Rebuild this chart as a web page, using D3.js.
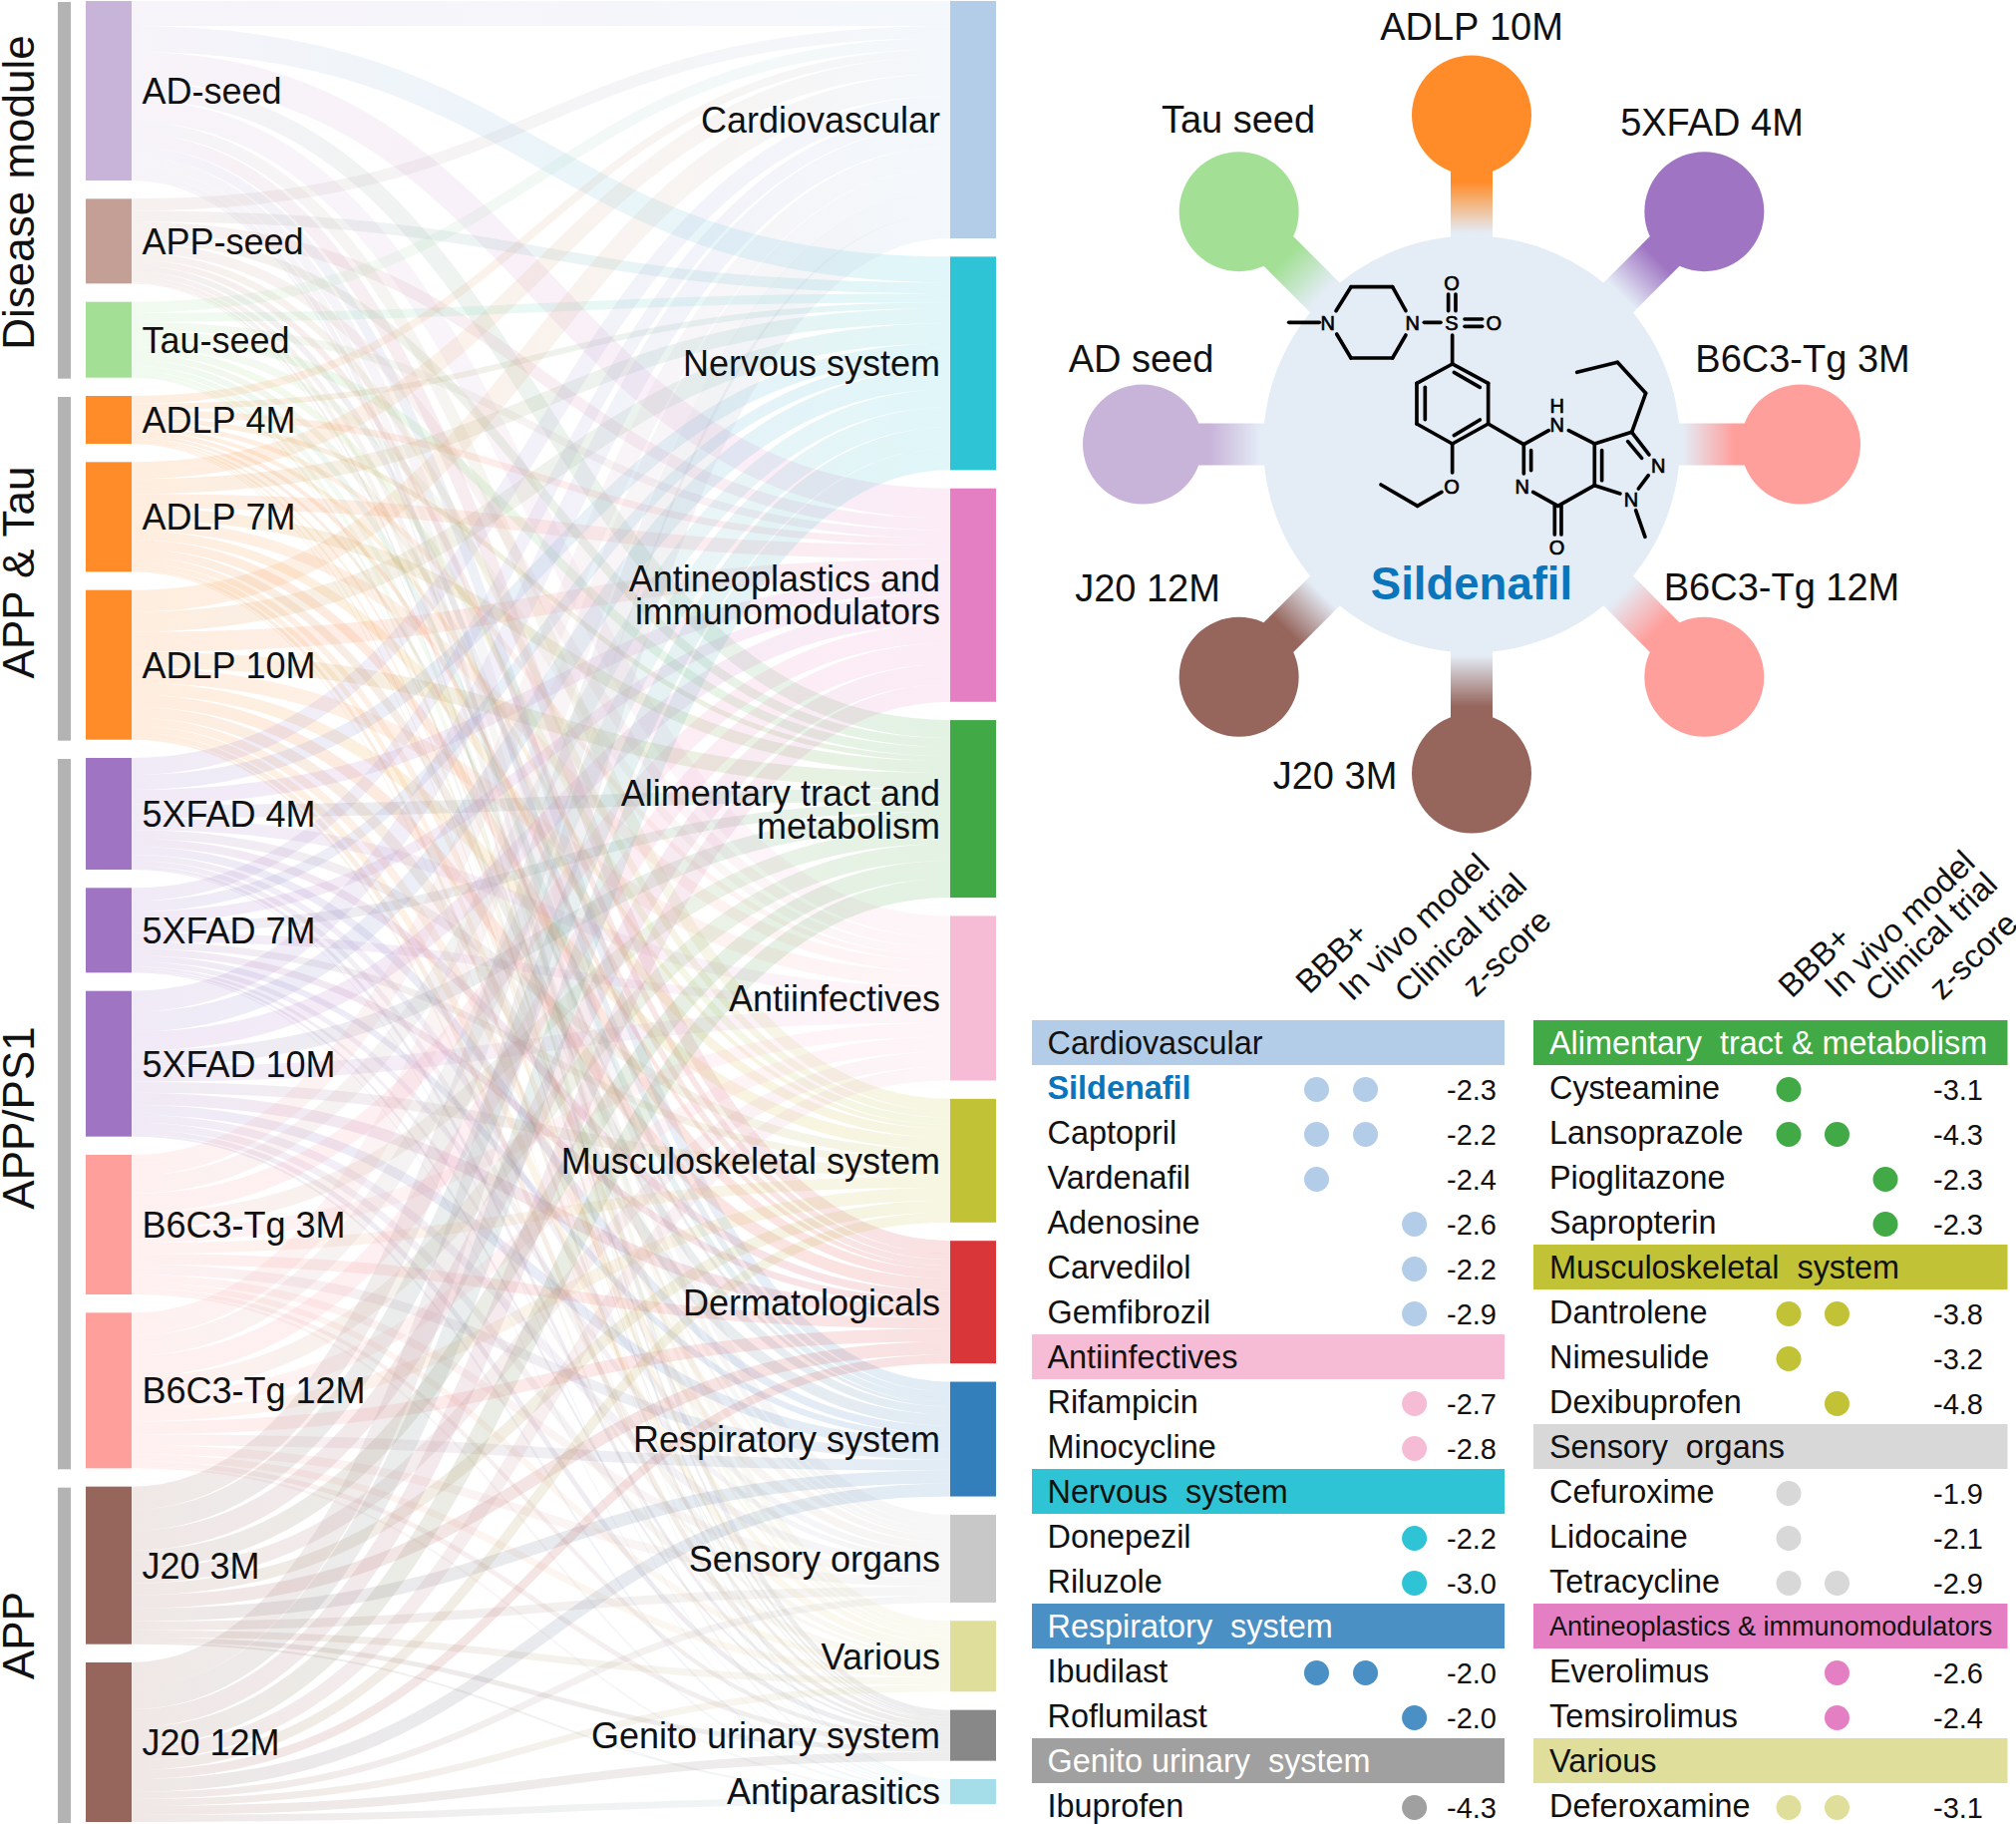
<!DOCTYPE html>
<html><head><meta charset="utf-8">
<script src="https://cdn.jsdelivr.net/npm/d3@7"></script>
<style>html,body{margin:0;padding:0;background:#fff}svg{display:block}text{font-family:"Liberation Sans",Arial,sans-serif;fill:#111}</style>
</head><body><svg id="c" width="2022" height="1829"></svg>
<script>
// ---------- Sankey data ----------
const diseaseModels=["AD-seed","APP-seed","Tau-seed","ADLP 4M","ADLP 7M","ADLP 10M","5XFAD 4M","5XFAD 7M","5XFAD 10M","B6C3-Tg 3M","B6C3-Tg 12M","J20 3M","J20 12M"];
const modelColors=["#c8b3d9","#c49f96","#a3e096","#ff8c28","#ff8c28","#ff8c28","#9f75c3","#9f75c3","#9f75c3","#ff9f9c","#ff9f9c","#96655c","#96655c"];
const atcClasses=["Cardiovascular","Nervous system","Antineoplastics and|immunomodulators","Alimentary tract and|metabolism","Antiinfectives","Musculoskeletal system","Dermatologicals","Respiratory system","Sensory organs","Various","Genito urinary system","Antiparasitics"];
const atcColors=["#b3cde9","#2ec4d5","#e57fc4","#41a945","#f7bcd5","#c2c236","#d9363a","#337fbc","#c8c8c8","#dfdf9b","#888888","#a5dde8"];
const flowAD=[25,26,30,18,22,12,13,10,10,7,5,2];
const flowAPP=[12,11,12,9,10,7,6,6,5,4,2,1];
const flowTau=[11,9,8,9,8,7,6,6,5,4,2,1];
const flowA4=[8,6,7,5,5,4,4,3,2,2,1,1];
const flowA7=[17,15,14,12,11,9,9,8,6,5,3,1];
const flowA10=[22,20,20,16,15,12,12,11,8,7,5,2];
const flowX4=[17,15,15,13,12,9,8,8,6,5,3,1];
const flowX7=[13,11,11,10,9,7,7,6,5,3,2,1];
const flowX10=[21,20,19,16,15,11,12,10,8,7,5,2];
const flowB3=[21,18,19,16,14,11,11,10,8,6,4,2];
const flowB12=[23,20,21,17,15,13,13,11,9,7,5,2];
const flowJ3=[23,21,20,18,15,12,13,13,9,7,5,2];
const flowJ12=[25,22,18,19,14,10,9,13,7,7,9,7];
const flows=[flowAD,flowAPP,flowTau,flowA4,flowA7,flowA10,flowX4,flowX7,flowX10,flowB3,flowB12,flowJ3,flowJ12];
const groupNames=["Disease module","APP & Tau","APP/PS1","APP"];
const groupSpans=[[0,2],[3,5],[6,10],[11,12]];
// ---------- Radial panel ----------
const radialLabels=["ADLP 10M","5XFAD 4M","B6C3-Tg 3M","B6C3-Tg 12M","J20 3M","J20 12M","AD seed","Tau seed"];
const radialColors=["#ff8c28","#9f75c3","#ff9f9c","#ff9f9c","#96655c","#96655c","#c8b3d9","#a3e096"];
const radialLabelPos=[[1476,26],[1717,122],[1808,359],[1787,588],[1339,777],[1151,589],[1144.5,359],[1242,119]];
// ---------- Molecule (drawing units) ----------
const molBonds=[[68,190,160,190],[210,155,255,83],[255,83,380,83],[380,83,420,155],[420,228,380,297],[380,297,255,297],[255,297,212,225],[475,190,525,190],[548,155,548,105],[570,155,570,105],[597,180,650,180],[597,202,650,202],[560,228,560,315],[560,315,668,373],[668,373,668,495],[668,495,560,555],[560,555,453,495],[453,495,453,373],[453,373,560,315],[565,340,643,385],[478,385,478,482],[565,530,643,483],[560,555,560,642],[528,700,455,742],[455,742,345,678],[668,495,775,557],[775,557,850,515],[910,515,988,555],[775,557,775,645],[797,575,797,635],[803,700,878,742],[868,742,868,828],[888,742,888,828],[878,742,988,680],[988,555,988,680],[1010,575,1010,665],[988,555,1100,520],[1100,520,1152,588],[1088,548,1130,598],[1150,650,1120,690],[988,680,1065,705],[1112,755,1140,835],[1100,520,1142,403],[1142,403,1057,310],[1057,310,935,340]];
const molAtoms=[["N",185,192],["N",440,192],["S",558,192],["O",558,72],["O",685,192],["O",558,683],["H",875,440],["N",875,497],["N",770,683],["O",875,865],["N",1180,620],["N",1098,722]];
// ---------- Table ----------
const flagNames=["BBB+","In vivo model","Clinical trial","z-score"];
const leftTable=[
 ["Cardiovascular","#b3cde9","#111",[["Sildenafil",[1,1,0],"-2.3"],["Captopril",[1,1,0],"-2.2"],["Vardenafil",[1,0,0],"-2.4"],["Adenosine",[0,0,1],"-2.6"],["Carvedilol",[0,0,1],"-2.2"],["Gemfibrozil",[0,0,1],"-2.9"]]],
 ["Antiinfectives","#f7bcd5","#111",[["Rifampicin",[0,0,1],"-2.7"],["Minocycline",[0,0,1],"-2.8"]]],
 ["Nervous  system","#2ec4d5","#111",[["Donepezil",[0,0,1],"-2.2"],["Riluzole",[0,0,1],"-3.0"]]],
 ["Respiratory  system","#4a90c4","#fff",[["Ibudilast",[1,1,0],"-2.0"],["Roflumilast",[0,0,1],"-2.0"]]],
 ["Genito urinary  system","#a0a0a0","#fff",[["Ibuprofen",[0,0,1],"-4.3"]]]];
const rightTable=[
 ["Alimentary  tract & metabolism","#41a945","#fff",[["Cysteamine",[1,0,0],"-3.1"],["Lansoprazole",[1,1,0],"-4.3"],["Pioglitazone",[0,0,1],"-2.3"],["Sapropterin",[0,0,1],"-2.3"]]],
 ["Musculoskeletal  system","#c2c236","#111",[["Dantrolene",[1,1,0],"-3.8"],["Nimesulide",[1,0,0],"-3.2"],["Dexibuprofen",[0,1,0],"-4.8"]]],
 ["Sensory  organs","#d8d8d8","#111",[["Cefuroxime",[1,0,0],"-1.9"],["Lidocaine",[1,0,0],"-2.1"],["Tetracycline",[1,1,0],"-2.9"]]],
 ["Antineoplastics & immunomodulators","#e57fc4","#111",[["Everolimus",[0,1,0],"-2.6"],["Temsirolimus",[0,1,0],"-2.4"]]],
 ["Various","#dfdf9b","#111",[["Deferoxamine",[1,1,0],"-3.1"]]]];

const svg=d3.select("#c");
const defs=svg.append("defs");
const pre=s=>s.replace(/ /g,"\u00a0");

// ---- Sankey layout ----
const leftVals=flows.map(r=>d3.sum(r));
const rightVals=atcClasses.map((_,j)=>d3.sum(flows,r=>r[j]));
const total=d3.sum(leftVals);
const h=d3.scaleLinear().domain([0,total]).range([0,total]);
const xL=[86,132], xR=[953,999];
function stack(vals,start,end){const pad=(end-start-h(d3.sum(vals)))/(vals.length-1);let y=start;return vals.map(v=>{const o={y0:y,y1:y+h(v)};y=o.y1+pad;return o;});}
const leftNodes=stack(leftVals,1,1827), rightNodes=stack(rightVals,1,1809);
const links=[];
const srcOff=leftNodes.map(n=>n.y0), tgtOff=rightNodes.map(n=>n.y0);
flows.forEach((r,i)=>r.forEach((v,j)=>{if(!v)return;links.push({i,j,v,w:h(v),sy:srcOff[i]+h(v)/2,ty:tgtOff[j]+h(v)/2});srcOff[i]+=h(v);tgtOff[j]+=h(v);}));
const linkGen=d3.linkHorizontal().source(d=>[xL[1],d.sy]).target(d=>[xR[0],d.ty]).x(d=>d[0]).y(d=>d[1]);
links.forEach((l,k)=>{const g=defs.append("linearGradient").attr("id","lg"+k).attr("gradientUnits","userSpaceOnUse").attr("x1",xL[1]).attr("x2",xR[0]).attr("y1",0).attr("y2",0);
 g.append("stop").attr("offset","0").attr("stop-color",modelColors[l.i]);g.append("stop").attr("offset","1").attr("stop-color",atcColors[l.j]);});
svg.append("g").attr("fill","none").selectAll("path").data(links).join("path").attr("d",linkGen).attr("stroke",(d,k)=>`url(#lg${k})`).attr("stroke-width",d=>d.w).attr("stroke-opacity",.15);
svg.append("g").selectAll("rect").data(leftNodes).join("rect").attr("x",xL[0]).attr("width",xL[1]-xL[0]).attr("y",d=>d.y0).attr("height",d=>d.y1-d.y0).attr("fill",(d,i)=>modelColors[i]);
svg.append("g").selectAll("rect").data(rightNodes).join("rect").attr("x",xR[0]).attr("width",xR[1]-xR[0]).attr("y",d=>d.y0).attr("height",d=>d.y1-d.y0).attr("fill",(d,i)=>atcColors[i]);
svg.append("g").selectAll("text").data(leftNodes).join("text").attr("x",142.5).attr("y",d=>(d.y0+d.y1)/2).attr("dy",".36em").attr("font-size",36).text((d,i)=>pre(diseaseModels[i]));
rightNodes.forEach((n,i)=>{const parts=atcClasses[i].split("|");const c=(n.y0+n.y1)/2;const t=svg.append("text").attr("font-size",36).attr("text-anchor","end");
 parts.forEach((p,k)=>{t.append("tspan").attr("x",943).attr("y",c+(k-(parts.length-1)/2)*33).attr("dy",".36em").text(pre(p));});});
// group bars
groupSpans.forEach((s,i)=>{const y0=leftNodes[s[0]].y0+1,y1=leftNodes[s[1]].y1+1;
 svg.append("rect").attr("x",58).attr("width",13).attr("y",y0).attr("height",y1-y0).attr("fill","#b3b3b3");
 const cy=[193,574,1121,1640][i];
 svg.append("text").attr("transform",`translate(34,${cy}) rotate(-90)`).attr("text-anchor","middle").attr("font-size",44).text(pre(groupNames[i]));});

// ---- Radial panel ----
const cx=1476,cy=445.5,bigR=209,armR=330,smallR=60,big="#e4ecf6";
const armAngle=d3.scaleLinear().domain([0,radialLabels.length]).range([0,360]);
radialColors.forEach((c,i)=>{const g=defs.append("linearGradient").attr("id","sp"+i).attr("gradientUnits","userSpaceOnUse").attr("x1",0).attr("x2",0).attr("y1",-263).attr("y2",-212);
 g.append("stop").attr("offset","0").attr("stop-color",c);g.append("stop").attr("offset","1").attr("stop-color",big);});
const arms=svg.append("g").attr("transform",`translate(${cx},${cy})`);
radialColors.forEach((c,i)=>{const g=arms.append("g").attr("transform",`rotate(${armAngle(i)})`);
 g.append("rect").attr("x",-21).attr("width",42).attr("y",-armR).attr("height",armR-bigR+4).attr("fill",`url(#sp${i})`);
 g.append("circle").attr("cy",-armR).attr("r",smallR).attr("fill",c);});
arms.append("circle").attr("r",bigR).attr("fill",big);
svg.append("g").selectAll("text").data(radialLabels).join("text").attr("x",(d,i)=>radialLabelPos[i][0]).attr("y",(d,i)=>radialLabelPos[i][1]).attr("dy",".36em").attr("text-anchor","middle").attr("font-size",38).text(d=>pre(d));
svg.append("text").attr("x",cx).attr("y",585).attr("dy",".36em").attr("text-anchor","middle").attr("font-size",45.5).attr("font-weight","bold").style("fill","#0b75bb").text("Sildenafil");
const mol=svg.append("g").attr("transform","translate(1270,260) scale(0.3333)");
mol.selectAll("line").data(molBonds).join("line").attr("x1",d=>d[0]).attr("y1",d=>d[1]).attr("x2",d=>d[2]).attr("y2",d=>d[3]).attr("stroke","#000").attr("stroke-width",11).attr("stroke-linecap","round");
mol.selectAll("text").data(molAtoms).join("text").attr("x",d=>d[1]).attr("y",d=>d[2]).attr("dy",".36em").attr("text-anchor","middle").attr("font-size",60).style("fill","#000").attr("stroke","#000").attr("stroke-width",2).text(d=>d[0]);

// ---- Table ----
function table(data,x0,x1,textX,dotX,zX,headPos){
 const rows=[];data.forEach(s=>{rows.push({head:s});s[3].forEach(d=>rows.push({drug:d,sec:s}));});
 const yb=d3.scaleBand().domain(d3.range(rows.length)).range([1023,1023+45*rows.length]);
 const xd=d3.scalePoint().domain([0,1,2]).range(dotX);
 rows.forEach((r,i)=>{const y=yb(i),mid=y+22.5;
  if(r.head){svg.append("rect").attr("x",x0).attr("width",x1-x0).attr("y",y).attr("height",45).attr("fill",r.head[1]);
   const small=r.head[0].startsWith("Antineo");
   svg.append("text").attr("x",textX).attr("y",mid).attr("dy",".36em").attr("font-size",small?27:32.4).style("fill",r.head[2]).text(pre(r.head[0]));
  } else {const isS=r.drug[0]==="Sildenafil";
   svg.append("text").attr("x",textX).attr("y",mid).attr("dy",".36em").attr("font-size",32.4).attr("font-weight",isS?"bold":null).style("fill",isS?"#0b75bb":"#111").text(r.drug[0]);
   r.drug[1].forEach((f,k)=>{if(f)svg.append("circle").attr("cx",xd(k)).attr("cy",mid+2).attr("r",12.5).attr("fill",r.sec[1]);});
   svg.append("text").attr("x",zX).attr("y",mid+2).attr("dy",".36em").attr("font-size",29).text(r.drug[2]);
  }});
 flagNames.forEach((n,i)=>svg.append("text").attr("transform",`translate(${headPos[i][0]},${headPos[i][1]}) rotate(-44)`).attr("font-size",33).text(pre(n)));
}
table(leftTable,1035,1509,1050.5,[1320.5,1418.6],1451,[[1313,998],[1356,1005],[1412,1007],[1480,1001]]);
table(rightTable,1538,2013.5,1554,[1794,1891],1939,[[1797,1002],[1843,1002],[1884,1006],[1948,1004]]);
</script></body></html>
